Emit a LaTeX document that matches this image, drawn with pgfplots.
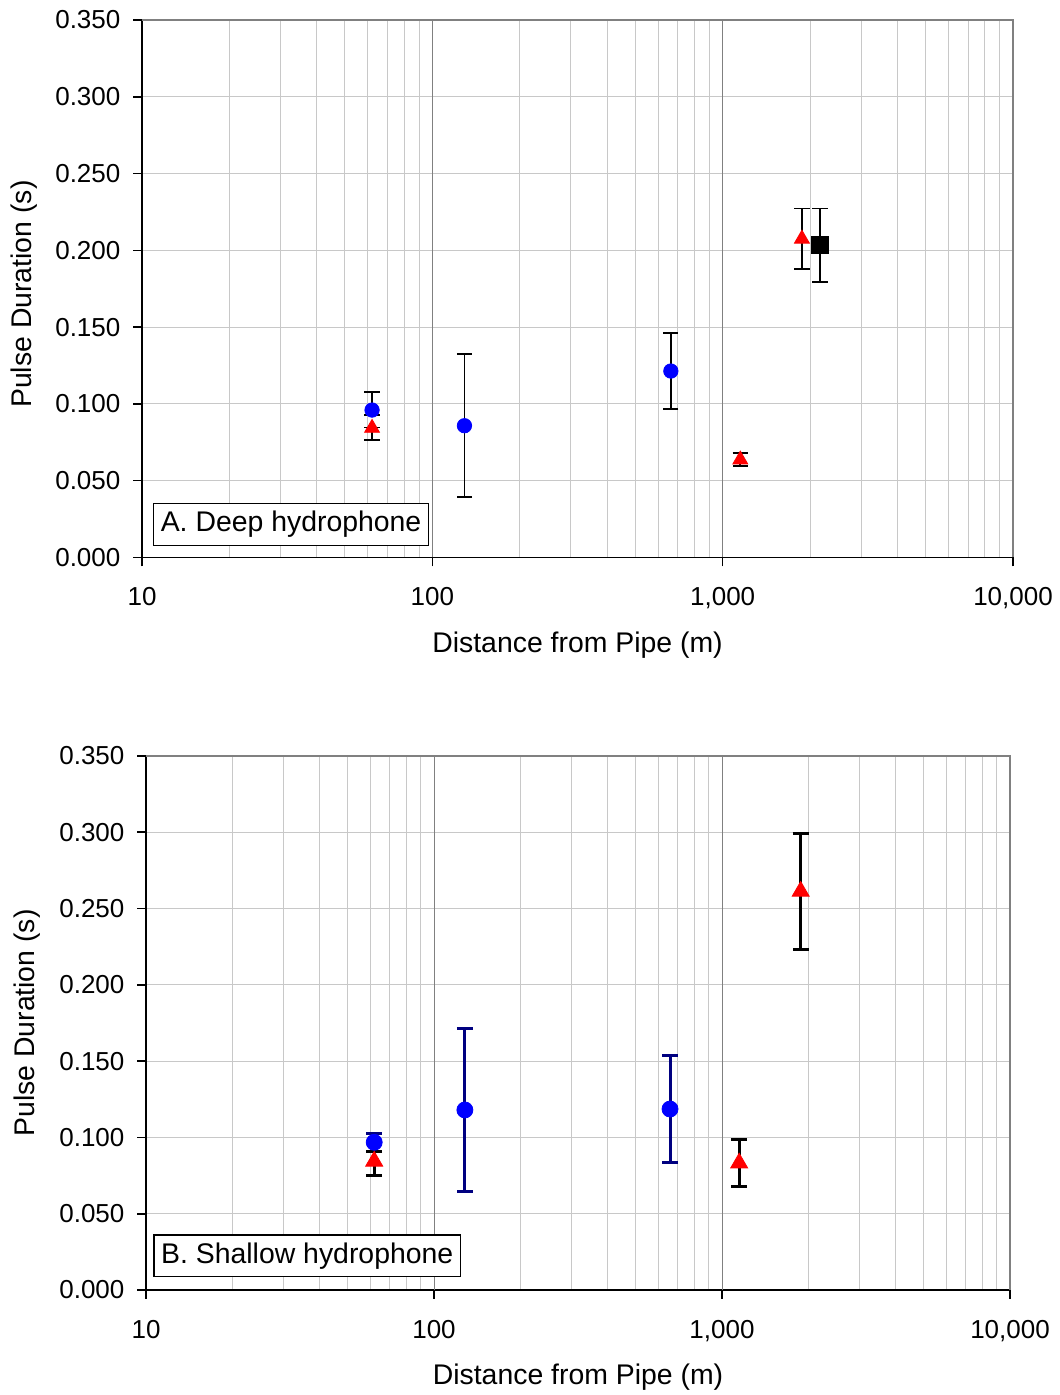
\documentclass[border=0pt]{standalone}
\usepackage{fontspec}
\setmainfont{Liberation Sans}
\usepackage{pgfplots}
\pgfplotsset{compat=1.18}
\definecolor{gridlight}{RGB}{200,200,200}
\definecolor{griddark}{RGB}{128,128,128}
\definecolor{navyb}{RGB}{0,0,128}
\tikzset{
  tagbox/.style={draw=black, line width=0.6pt, fill=white, anchor=south west, inner xsep=3.6pt, inner ysep=3.8pt, text height=10.4pt, text depth=2.9pt, font=\fontsize{14.2}{16}\selectfont},
}
\begin{document}
\begin{tikzpicture}
\path[use as bounding box] (0,0) rectangle (529.5pt,697.5pt);
% ---------- Panel A ----------
\begin{axis}[
  xmode=log,
  xmin=10, xmax=10000, ymin=0, ymax=0.35,
  scale only axis,
  at={(71pt,418.75pt)}, anchor=south west,
  width=435.5pt, height=268.75pt,
  axis x line*=bottom, axis y line*=left,
  axis line style={black, line width=0.8pt},
  tick align=outside,
  major tick length=4.5pt, minor tick length=0pt,
  tick style={black, line width=0.8pt},
  xtick={10,100,1000,10000},
  xticklabels={10,100,{1,000},{10,000}},
  minor xtick={20,30,40,50,60,70,80,90,200,300,400,500,600,700,800,900,2000,3000,4000,5000,6000,7000,8000,9000},
  ytick={0,0.05,0.1,0.15,0.2,0.25,0.3,0.35},
  yticklabels={0.000,0.050,0.100,0.150,0.200,0.250,0.300,0.350},
  yticklabel style={font=\fontsize{13}{15}\selectfont, xshift=-2.8pt},
  xticklabel style={font=\fontsize{13}{15}\selectfont, yshift=-7pt},
  xmajorgrids, xminorgrids, ymajorgrids,
  x grid style={gridlight, line width=0.5pt},
  y grid style={gridlight, line width=0.5pt},
  xlabel={Distance from Pipe (m)},
  ylabel={Pulse Duration (s)},
  xlabel style={at={(axis description cs:0.5,-0.163)}, anchor=center, font=\fontsize{14.2}{16}\selectfont},
  ylabel style={at={(axis description cs:-0.135,0.49)}, anchor=center, font=\fontsize{14.2}{16}\selectfont},
  extra description/.code={
    \draw[griddark, line width=0.5pt] (axis cs:100,0) -- (axis cs:100,0.35);
    \draw[griddark, line width=0.5pt] (axis cs:1000,0) -- (axis cs:1000,0.35);
    \draw[griddark, line width=0.8pt] (rel axis cs:0,1) -- (rel axis cs:1,1) -- (rel axis cs:1,0);
    \node[tagbox] at ([xshift=5.5pt,yshift=5.75pt]rel axis cs:0,0) {A. Deep hydrophone};
  }]
\addplot[only marks, mark=*, mark size=3.6pt, color=blue,
  error bars/.cd, y dir=both, y explicit,
  error bar style={black, line width=0.9pt},
  error mark options={rotate=90, black, mark size=3.8pt, line width=0.9pt}]
coordinates {
  (62,0.0960) += (0,0.0116) -= (0,0.0030)
  (129,0.0858) +- (0,0.0465)
  (663,0.1214) +- (0,0.0248)
};
\addplot[only marks, mark=triangle*, mark size=4.3pt, color=red,
  error bars/.cd, y dir=both, y explicit,
  error bar style={black, line width=0.9pt},
  error mark options={rotate=90, black, mark size=3.8pt, line width=0.9pt}]
coordinates {
  (62,0.0843) += (0,0.0003) -= (0,0.0080)
  (1150,0.0637) +- (0,0.0043)
  (1875,0.2075) +- (0,0.0198)
};
\addplot[only marks, mark=square*, mark size=4.25pt, color=black,
  error bars/.cd, y dir=both, y explicit,
  error bar style={black, line width=0.9pt},
  error mark options={rotate=90, black, mark size=3.8pt, line width=0.9pt}]
coordinates {
  (2165,0.2034) +- (0,0.0239)
};
\end{axis}
% ---------- Panel B ----------
\begin{axis}[
  xmode=log,
  xmin=10, xmax=10000, ymin=0, ymax=0.35,
  scale only axis,
  at={(73pt,52.5pt)}, anchor=south west,
  width=432pt, height=267pt,
  axis x line*=bottom, axis y line*=left,
  axis line style={black, line width=0.8pt},
  tick align=outside,
  major tick length=4.5pt, minor tick length=0pt,
  tick style={black, line width=0.8pt},
  xtick={10,100,1000,10000},
  xticklabels={10,100,{1,000},{10,000}},
  minor xtick={20,30,40,50,60,70,80,90,200,300,400,500,600,700,800,900,2000,3000,4000,5000,6000,7000,8000,9000},
  ytick={0,0.05,0.1,0.15,0.2,0.25,0.3,0.35},
  yticklabels={0.000,0.050,0.100,0.150,0.200,0.250,0.300,0.350},
  yticklabel style={font=\fontsize{13}{15}\selectfont, xshift=-2.8pt},
  xticklabel style={font=\fontsize{13}{15}\selectfont, yshift=-7pt},
  xmajorgrids, xminorgrids, ymajorgrids,
  x grid style={gridlight, line width=0.5pt},
  y grid style={gridlight, line width=0.5pt},
  xlabel={Distance from Pipe (m)},
  ylabel={Pulse Duration (s)},
  xlabel style={at={(axis description cs:0.5,-0.163)}, anchor=center, font=\fontsize{14.2}{16}\selectfont},
  ylabel style={at={(axis description cs:-0.138,0.5)}, anchor=center, font=\fontsize{14.2}{16}\selectfont},
  extra description/.code={
    \draw[griddark, line width=0.5pt] (axis cs:100,0) -- (axis cs:100,0.35);
    \draw[griddark, line width=0.5pt] (axis cs:1000,0) -- (axis cs:1000,0.35);
    \draw[griddark, line width=0.8pt] (rel axis cs:0,1) -- (rel axis cs:1,1) -- (rel axis cs:1,0);
    \node[tagbox] at ([xshift=3.7pt,yshift=6.3pt]rel axis cs:0,0) {B. Shallow hydrophone};
  }]
\addplot[only marks, mark=*, mark size=4pt, color=blue,
  error bars/.cd, y dir=both, y explicit,
  error bar style={navyb, line width=1.5pt},
  error mark options={rotate=90, navyb, mark size=4pt, line width=1.5pt}]
coordinates {
  (62,0.0968) +- (0,0.0060)
  (128,0.1180) +- (0,0.0534)
  (660,0.1186) +- (0,0.0348)
};
\addplot[only marks, mark=triangle*, mark size=4.9pt, color=red,
  error bars/.cd, y dir=both, y explicit,
  error bar style={black, line width=1.5pt},
  error mark options={rotate=90, black, mark size=4pt, line width=1.5pt}]
coordinates {
  (62,0.0844) += (0,0.0067) -= (0,0.0095)
  (1147,0.0832) +- (0,0.0154)
  (1876,0.2613) +- (0,0.0379)
};
\end{axis}
\end{tikzpicture}
\end{document}
